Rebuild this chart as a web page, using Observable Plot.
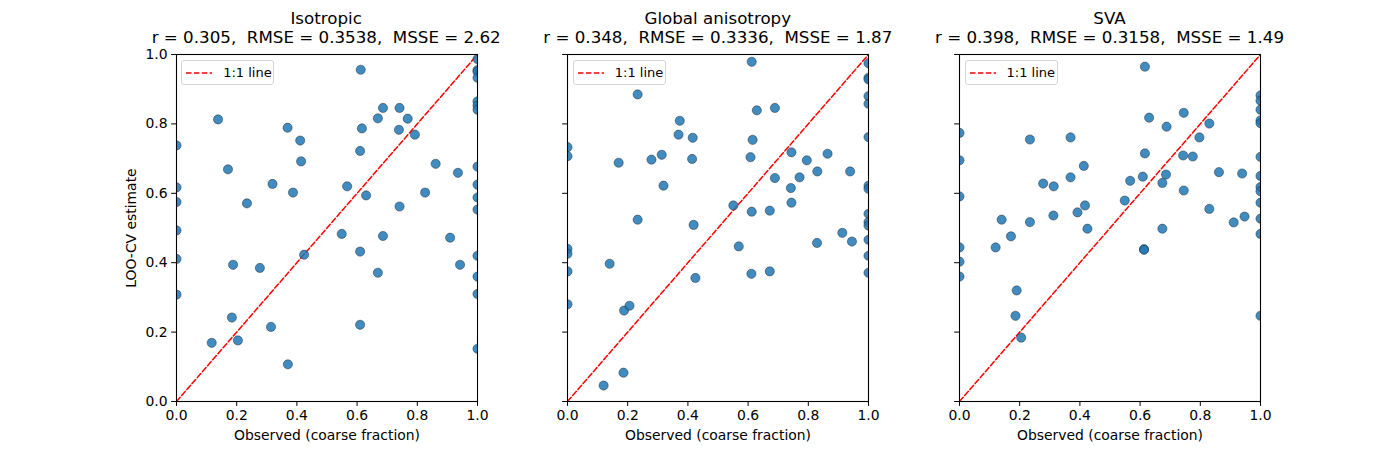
<!DOCTYPE html>
<html><head><meta charset="utf-8">
<script src="https://cdn.jsdelivr.net/npm/d3@7"></script>
<script src="https://cdn.jsdelivr.net/npm/@observablehq/plot@0.6"></script>
<style>
body{margin:0;background:#fff;font-family:"DejaVu Sans",sans-serif;}
#root{position:relative;width:1400px;height:450px;overflow:hidden;background:#fff;}
.title{position:absolute;text-align:center;font-size:16.7px;line-height:13px;height:13px;white-space:pre;color:#000;}
.plotwrap{position:absolute;}
.legend{position:absolute;box-sizing:border-box;border:1px solid #d6d6d6;border-radius:3px;background:rgba(255,255,255,0.8);font-size:13px;color:#000;display:flex;align-items:center;}
.legend svg{margin-left:3px;margin-right:10px;}
</style></head><body><div id="root"></div>
<script>
// ---- data ----
const panelNames = ["Isotropic", "Global anisotropy", "SVA"];
const panelStats = [
  "r = 0.305,  RMSE = 0.3538,  MSSE = 2.62",
  "r = 0.348,  RMSE = 0.3336,  MSSE = 1.87",
  "r = 0.398,  RMSE = 0.3158,  MSSE = 1.49"
];
const tickValues = [0, 0.2, 0.4, 0.6, 0.8, 1.0];
const axisDomain = [0, 1];

const isoObs = [0.612,1,1,1,1,1,1,1,0.138,0.369,0.411,0.414,0.171,0.319,0.387,0.234,0,0,0,0.616,0.610,0.669,0.686,0.741,0.768,0.739,0.792,0.567,0.630,0.741,0.861,0.935,0.826,1,1,1,1,0,0,0,0.549,0.686,0.909,0.610,0.424,0.188,0.277,0.669,0.942,1,1,1,1,0.184,0.314,0.610,0.117,0.204,0.370];
const isoPred = [0.956,0.987,0.955,0.950,0.933,0.865,0.853,0.841,0.813,0.789,0.752,0.692,0.669,0.627,0.602,0.571,0.738,0.617,0.575,0.787,0.722,0.816,0.846,0.846,0.815,0.783,0.769,0.620,0.594,0.562,0.685,0.659,0.602,0.677,0.625,0.588,0.553,0.493,0.411,0.308,0.483,0.477,0.472,0.432,0.423,0.394,0.385,0.371,0.394,0.420,0.360,0.310,0.152,0.242,0.215,0.221,0.169,0.176,0.107];

const gaObs = [0.612,0.233,1,1,1,1,1,1,0.629,0.689,0.373,0.369,0.416,0.615,0,0,0.313,0.279,0.170,0.414,0.608,0.744,0.864,0.795,0.319,0.689,0.771,0.830,0.939,0.742,0.744,0.551,0.612,0.672,0.233,0.419,1,1,1,1,1,0.913,0,0,0,0,0.140,0.569,0.829,0.945,1,1,1,0.425,0.611,0.672,0.188,0.206,0.186,0.120];
const gaPred = [0.979,0.885,0.975,0.933,0.928,0.880,0.858,0.762,0.839,0.846,0.809,0.769,0.760,0.754,0.733,0.707,0.711,0.697,0.688,0.699,0.704,0.718,0.714,0.695,0.622,0.644,0.646,0.663,0.663,0.615,0.573,0.565,0.547,0.550,0.524,0.509,0.622,0.613,0.541,0.517,0.507,0.486,0.440,0.426,0.375,0.280,0.397,0.447,0.457,0.461,0.466,0.420,0.371,0.356,0.368,0.375,0.262,0.276,0.083,0.046];

const svaObs = [0.616,1,1,1,1,1,0.745,0.630,0.830,0.688,0,0,0,0.234,0.369,0.797,0.616,0.743,0.775,1,0.413,0.369,0.278,0.313,0.567,0.609,0.686,0.674,0.862,0.939,1,1,1,1,1,0.745,0.549,0.417,0.830,0.392,0.312,0.947,0.140,0.234,0.911,0.425,0.674,0.171,0.120,0,0,0,0.613,0.613,1,1,0.190,0.186,0.205];
const svaPred = [0.965,0.882,0.867,0.841,0.810,0.802,0.832,0.818,0.801,0.792,0.774,0.695,0.591,0.755,0.761,0.761,0.715,0.709,0.706,0.705,0.679,0.646,0.628,0.620,0.636,0.648,0.654,0.630,0.661,0.657,0.650,0.618,0.606,0.573,0.527,0.608,0.579,0.565,0.555,0.545,0.536,0.533,0.524,0.517,0.516,0.498,0.498,0.476,0.444,0.444,0.403,0.360,0.439,0.437,0.483,0.247,0.320,0.247,0.184];

const panelObs = [isoObs, gaObs, svaObs];
const panelPred = [isoPred, gaPred, svaPred];

// ---- layout ----
const frameLefts = [175.7, 567.3, 959];
const frameTop = 54;
const frameW = 301, frameH = 347;
const mL = 70, mR = 12, mT = 8, mB = 48;
const root = document.getElementById("root");
const fmt = d3.format(".1f");

panelNames.forEach((name, i) => {
  const rows = panelObs[i].map((o, k) => ({obs: o, pred: panelPred[i][k]}));
  const diag = axisDomain.map(v => ({obs: v, pred: v}));
  const first = i === 0;
  const chart = Plot.plot({
    width: mL + frameW + mR,
    height: mT + frameH + mB,
    marginLeft: mL, marginRight: mR, marginTop: mT, marginBottom: mB,
    style: {fontFamily: "DejaVu Sans", fontSize: "13.9px", color: "black", background: "transparent", overflow: "visible"},
    x: {domain: axisDomain},
    y: {domain: axisDomain},
    marks: [
      Plot.line(diag, {x: "obs", y: "pred", stroke: "red", strokeWidth: 1.5, strokeDasharray: "5.5,2.4", clip: true}),
      Plot.dot(rows, {x: "obs", y: "pred", r: 4.6, fill: "#1f77b4", fillOpacity: 0.85, stroke: "#1a1a1a", strokeOpacity: 0.85, strokeWidth: 0.5, clip: true}),
      Plot.frame({stroke: "black", strokeWidth: 1.1}),
      Plot.axisX({ticks: tickValues, tickFormat: fmt, tickSize: 4.9, tickPadding: 4, label: "Observed (coarse fraction)", labelAnchor: "center", labelArrow: "none", labelOffset: 38}),
      Plot.axisY({ticks: tickValues, tickFormat: first ? fmt : () => "", tickSize: 4.9, tickPadding: 4, label: first ? "LOO-CV estimate" : null, labelAnchor: "center", labelArrow: "none", labelOffset: 50})
    ]
  });
  const wrap = document.createElement("div");
  wrap.className = "plotwrap";
  wrap.style.left = (frameLefts[i] - mL) + "px";
  wrap.style.top = (frameTop - mT) + "px";
  wrap.appendChild(chart);
  root.appendChild(wrap);

  [name, panelStats[i]].forEach((line, j) => {
    const t = document.createElement("div");
    t.className = "title";
    t.style.left = (frameLefts[i] - 60) + "px";
    t.style.width = (frameW + 120) + "px";
    t.style.top = (j === 0 ? 12 : 31) + "px";
    t.textContent = line;
    root.appendChild(t);
  });

  const lg = document.createElement("div");
  lg.className = "legend";
  lg.style.left = (frameLefts[i] + 5.5) + "px";
  lg.style.top = "60px";
  lg.style.width = "93px";
  lg.style.height = "25px";
  lg.innerHTML = '<svg width="28" height="10"><line x1="1" y1="5" x2="27" y2="5" stroke="red" stroke-width="1.5" stroke-dasharray="5.5,2.4"/></svg><span>1:1 line</span>';
  root.appendChild(lg);
});
</script></body></html>
